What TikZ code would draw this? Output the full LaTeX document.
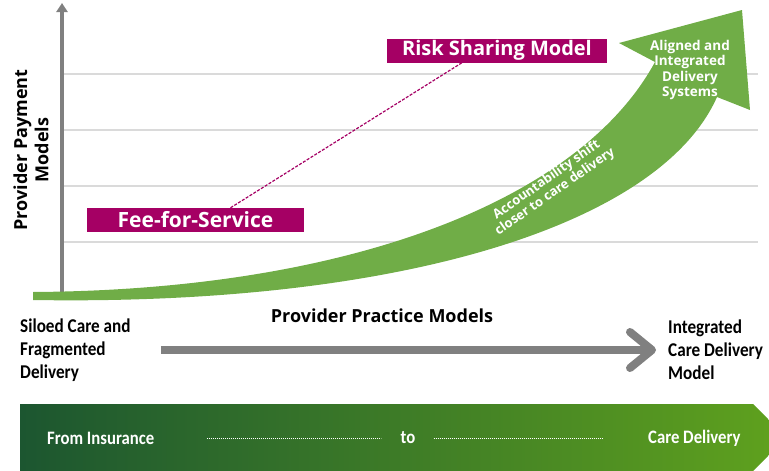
\documentclass[tikz,border=0pt]{standalone}
\usepackage{fontspec}
\setmainfont{Carlito}
\newfontfamily\narrowfont{Carlito}[FakeStretch=0.88]
\newfontfamily\opensans{Open Sans}
\usetikzlibrary{arrows.meta}
\definecolor{paymag}{RGB}{165,0,100}
\definecolor{curvegreen}{RGB}{112,173,71}
\definecolor{axisgray}{RGB}{128,128,128}
\definecolor{gridgray}{RGB}{218,218,218}
\definecolor{bandleft}{RGB}{28,86,48}
\definecolor{bandright}{RGB}{94,160,30}
\tikzset{
  paybox/.style={fill=paymag, text=white, inner sep=0pt, minimum height=24pt,
    font=\opensans\fontsize{20}{24}\selectfont\bfseries},
  gridline/.style={gridgray, line width=1.5pt},
  axisline/.style={axisgray, line width=4pt, -{Triangle[length=9pt,width=11pt]}},
  axislabel/.style={font=\opensans\fontsize{18}{21}\selectfont\bfseries, align=center},
  sidelabel/.style={font=\narrowfont\fontsize{19.5}{23}\selectfont\bfseries, align=left, anchor=west, inner sep=0pt},
  bandlabel/.style={text=white, font=\narrowfont\fontsize{19}{21}\selectfont\bfseries, inner sep=0pt},
  curvelabel/.style={text=white, font=\opensans\fontsize{13.5}{15.5}\selectfont\bfseries, align=center, inner sep=0pt},
  flowarrow/.style={axisgray, line width=8pt, -{Straight Barb[length=22pt,width=36pt,round]}},
  dotline/.style={white, line width=0.7pt, dash pattern=on 1pt off 1pt}
}
\begin{document}
\begin{tikzpicture}[x=1pt,y=-1pt]
  \useasboundingbox (0,0) rectangle (769,471);
  \foreach \y in {74,130,186,242}
    \draw[gridline] (62,\y) -- (758,\y);
  \coordinate (origin) at (62,295);
  \coordinate (top) at (62,3);
  \draw[axisline] (origin) -- (top);
  % the curved arrow
  \fill[curvegreen] (33,292) .. controls (350,290) and (580,200) .. (655,62)
    -- (619,43) -- (742,10) -- (750,110) -- (717,97)
    .. controls (660,225) and (400,306) .. (33,300) -- cycle;
  \node[curvelabel] (aligned) at (690,70) {Aligned and\\Integrated\\Delivery\\Systems};
  \node[curvelabel, font=\opensans\fontsize{13}{14.5}\selectfont\bfseries, rotate=35] (shift) at (551,186) {Accountability shift\\closer to care delivery};

  \node[paybox, minimum width=217pt, font=\opensans\fontsize{21}{24}\selectfont\bfseries] (fee) at (195.5,220) {Fee-for-Service};
  \node[paybox, minimum width=220pt] (risk) at (497,50.5) {Risk Sharing Model};
  \draw[paymag, line width=1.2pt, dash pattern=on 3pt off 1.5pt] ([xshift=35pt]fee.north) -- ([xshift=-35pt]risk.south);

  \node[axislabel, rotate=90] (payment) at (31,150) {Provider Payment\\Models};
  \node[axislabel] (practice) at (382,316) {Provider Practice Models};

  \node[sidelabel] (siloed) at (20,350) {Siloed Care and\\Fragmented\\Delivery};
  \node[sidelabel] (integ) at (668,350) {Integrated\\Care Delivery\\Model};
  \draw[flowarrow, shorten <=30pt, shorten >=12pt] (siloed.east) -- (integ.west);

  % bottom band
  \shade[left color=bandleft, right color=bandright] (20,404) -- (753,404) -- (769,420) -- (769,455) -- (753,471) -- (20,471) -- cycle;
  \node[bandlabel, anchor=west] (insurance) at (47,438) {From Insurance};
  \node[bandlabel] (to) at (408,438) {to};
  \node[bandlabel, anchor=west] (care) at (648,438) {Care Delivery};
  \draw[dotline, shorten <=53pt, shorten >=19pt] (insurance.east) -- (to.west);
  \draw[dotline, shorten <=18pt, shorten >=45pt] (to.east) -- (care.west);
\end{tikzpicture}
\end{document}
